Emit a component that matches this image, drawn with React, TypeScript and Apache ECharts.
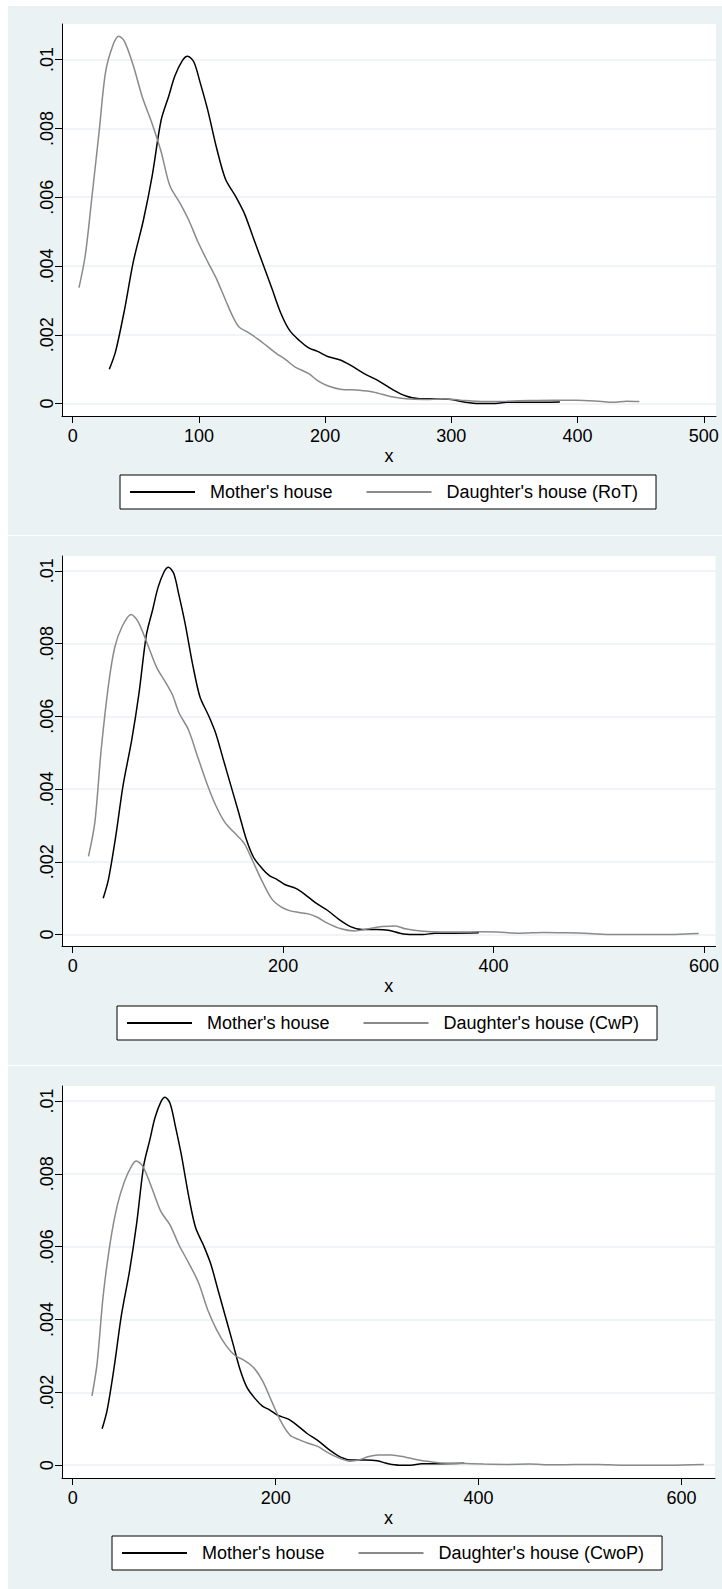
import React, { useEffect, useRef } from "react";
import * as echarts from "echarts";

// ---- data ----
const MOTHER_X = [29, 34, 41, 48, 56, 63, 70, 76, 81, 87, 91, 96, 101, 107, 114, 121, 129, 136, 143, 150, 158, 165, 172, 180, 187, 194, 202, 212, 220, 231, 242, 253, 264, 275, 289, 300, 311, 322, 333, 344, 362, 386];
const MOTHER_Y = [0.001, 0.00152, 0.00272, 0.00412, 0.00533, 0.00663, 0.00823, 0.00893, 0.00953, 0.00998, 0.0101, 0.00993, 0.00933, 0.00853, 0.00743, 0.00653, 0.00603, 0.00553, 0.00483, 0.00413, 0.00333, 0.00262, 0.00212, 0.00182, 0.00162, 0.00152, 0.00137, 0.00127, 0.00112, 0.00087, 0.00067, 0.00042, 0.00022, 0.00014, 0.00014, 0.00012, 0.00004, 0.0, 0.0, 0.00004, 0.00004, 0.00005];

const ROT_X = [5, 10, 15, 21, 26, 32, 36.5, 41, 48, 55, 63, 70, 77, 85, 92, 99, 107, 114, 121, 127, 132, 139, 147, 154, 161, 169, 176, 187, 194, 202, 212, 227, 238, 253, 264, 278, 293, 307, 326, 344, 362, 380, 399, 417, 428, 439, 449];
const ROT_Y = [0.00337, 0.00432, 0.00593, 0.00793, 0.00963, 0.01043, 0.01068, 0.01053, 0.00983, 0.00893, 0.00813, 0.00733, 0.00633, 0.00583, 0.00533, 0.00472, 0.00412, 0.00362, 0.00302, 0.00252, 0.00222, 0.00207, 0.00187, 0.00167, 0.00147, 0.00127, 0.00107, 0.00087, 0.00067, 0.00052, 0.00042, 0.00039, 0.00034, 0.0002, 0.00014, 0.00012, 0.00014, 0.0001, 0.00006, 0.00007, 0.00009, 0.0001, 0.0001, 0.00007, 0.00004, 0.00007, 0.00006];

const CWP_X = [15, 21, 27, 34, 40, 47, 55.5, 62, 71, 80, 88, 95, 101, 110, 119, 128, 136, 145, 154, 163, 171, 180, 189, 198, 206, 215, 224, 233, 241, 255, 268, 281, 294, 307, 316, 333, 351, 368, 386, 403, 425, 447, 469, 491, 513, 543, 569, 582, 595];
const CWP_Y = [0.00215, 0.00307, 0.00506, 0.00686, 0.0079, 0.00847, 0.0088, 0.00861, 0.00799, 0.00733, 0.00695, 0.00658, 0.0061, 0.00563, 0.00487, 0.00412, 0.00355, 0.00307, 0.00279, 0.00251, 0.00203, 0.00147, 0.00099, 0.00076, 0.00066, 0.00061, 0.00057, 0.00047, 0.00033, 0.00016, 0.0001, 0.00016, 0.00022, 0.00024, 0.00016, 0.00009, 0.00007, 0.00007, 0.00008, 0.00007, 0.00004, 0.00006, 0.00005, 0.00003, 0.0, 0.0, 0.0, 0.00002, 0.00003];

const CWOP_X = [19, 24, 30, 37, 44, 51, 58, 62.6, 69, 78, 87, 96, 105, 114, 124, 133, 142, 151, 160, 169, 178, 187, 196, 205, 214, 223, 232, 242, 251, 262, 273, 282, 291, 301, 314, 328, 341, 360, 382, 405, 428, 450, 473, 496, 518, 541, 564, 587, 622];
const CWOP_Y = [0.0019, 0.00278, 0.00464, 0.00612, 0.00714, 0.00779, 0.00821, 0.00835, 0.00821, 0.00761, 0.00696, 0.00659, 0.00603, 0.00557, 0.00501, 0.00427, 0.00371, 0.00329, 0.00301, 0.00288, 0.00269, 0.00232, 0.00176, 0.00121, 0.00083, 0.0007, 0.0006, 0.00051, 0.00035, 0.0002, 0.00011, 0.00014, 0.00023, 0.00028, 0.00028, 0.00022, 0.00014, 0.00007, 0.00005, 0.00003, 0.00002, 0.00003, 0.00001, 0.00002, 0.00002, 0.0, 0.0, 0.0, 0.00002];

const X_TICKS_A = [0, 100, 200, 300, 400, 500];
const X_TICKS_B = [0, 200, 400, 600];
const Y_TICKS = [0, 0.002, 0.004, 0.006, 0.008, 0.01];

const MOTHER_NAME = "Mother's house";
const DAUGHTER_NAMES = ["Daughter's house (RoT)", "Daughter's house (CwP)", "Daughter's house (CwoP)"];

const pairs = (xs: number[], ys: number[]) => xs.map((x, i) => [x, ys[i]]);

const FONT = "Liberation Sans";
const BG = "#EAF2F3";

export default function App() {
  const ref = useRef<HTMLDivElement>(null);

  useEffect(() => {
    if (!ref.current) return;
    const chart = echarts.init(ref.current, undefined, { renderer: "svg" });

    const panels = [
      { left: 62, top: 24, width: 654, height: 392, xMin: -8.48, xMax: 509.7, yMin: -0.00036, yMax: 0.011035, xTicks: X_TICKS_A, legendLeft: 120, legendTop: 475, daughter: pairs(ROT_X, ROT_Y) },
      { left: 62, top: 556, width: 654, height: 390, xMin: -10.16, xMax: 611, yMin: -0.000313, yMax: 0.010407, xTicks: X_TICKS_B, legendLeft: 117, legendTop: 1006, daughter: pairs(CWP_X, CWP_Y) },
      { left: 62, top: 1086, width: 653, height: 392, xMin: -10.55, xMax: 633, yMin: -0.000352, yMax: 0.01041, xTicks: X_TICKS_B, legendLeft: 112, legendTop: 1536, daughter: pairs(CWOP_X, CWOP_Y) },
    ];

    const textBase = { fontFamily: FONT, fontSize: 18, color: "#000" };
    const mother = pairs(MOTHER_X, MOTHER_Y);

    const option: any = {
      animation: false,
      backgroundColor: BG,
      graphic: [
        { type: "rect", shape: { x: 0, y: 0, width: 8, height: 1589 }, style: { fill: "#fff" } },
        { type: "rect", shape: { x: 0, y: 0, width: 722, height: 6 }, style: { fill: "#fff" } },
        { type: "rect", shape: { x: 0, y: 535, width: 722, height: 1 }, style: { fill: "#fff" } },
        { type: "rect", shape: { x: 0, y: 1065, width: 722, height: 1 }, style: { fill: "#fff" } },
      ],
      grid: panels.map((p) => ({
        left: p.left, top: p.top, width: p.width, height: p.height,
        show: true, backgroundColor: "#fff", borderWidth: 0, containLabel: false,
      })),
      xAxis: panels.map((p, i) => ({
        gridIndex: i, type: "value", min: p.xMin, max: p.xMax,
        axisLine: { show: true, onZero: false, lineStyle: { color: "#000", width: 1 } },
        axisTick: { show: true, length: 7, customValues: p.xTicks, lineStyle: { color: "#000", width: 1 } },
        axisLabel: { customValues: p.xTicks, margin: 11, ...textBase },
        splitLine: { show: false },
        name: "x", nameLocation: "middle", nameGap: 31, nameTextStyle: { ...textBase },
      })),
      yAxis: panels.map((p, i) => ({
        gridIndex: i, type: "value", min: p.yMin, max: p.yMax,
        axisLine: { show: true, onZero: false, lineStyle: { color: "#000", width: 1 } },
        axisTick: { show: true, length: 7, customValues: Y_TICKS, lineStyle: { color: "#000", width: 1 } },
        axisLabel: {
          customValues: Y_TICKS, rotate: 90, margin: 6, ...textBase,
          formatter: (v: number) => (v === 0 ? "0" : String(+v.toFixed(4)).replace(/^0/, "")),
        },
        splitLine: { show: true, lineStyle: { color: BG, width: 1.5 } },
      })),
      legend: panels.map((p, i) => ({
        left: p.legendLeft, top: p.legendTop, orient: "horizontal",
        data: [MOTHER_NAME, DAUGHTER_NAMES[i]],
        itemWidth: 65, itemHeight: 18, itemGap: 33,
        padding: [8, 18, 8, 9],
        borderColor: "#000", borderWidth: 1, borderRadius: 0, backgroundColor: "#fff",
        selectedMode: false,
        itemStyle: { opacity: 0, borderWidth: 0 },
        textStyle: { ...textBase, padding: [0, 0, 0, 10] },
      })),
      series: panels.flatMap((p, i) => [
        {
          name: MOTHER_NAME, type: "line", xAxisIndex: i, yAxisIndex: i,
          data: mother, showSymbol: false, symbol: "none", smooth: 0.3,
          lineStyle: { color: "#000", width: 1.5 }, itemStyle: { color: "#000" },
        },
        {
          name: DAUGHTER_NAMES[i], type: "line", xAxisIndex: i, yAxisIndex: i,
          data: p.daughter, showSymbol: false, symbol: "none", smooth: 0.3,
          lineStyle: { color: "#8a8a8a", width: 1.5 }, itemStyle: { color: "#8a8a8a" },
        },
      ]),
    };

    chart.setOption(option);
    return () => chart.dispose();
  }, []);

  return (
    <div
      ref={ref}
      style={{ position: "absolute", left: 0, top: 0, width: 722, height: 1589 }}
    />
  );
}
